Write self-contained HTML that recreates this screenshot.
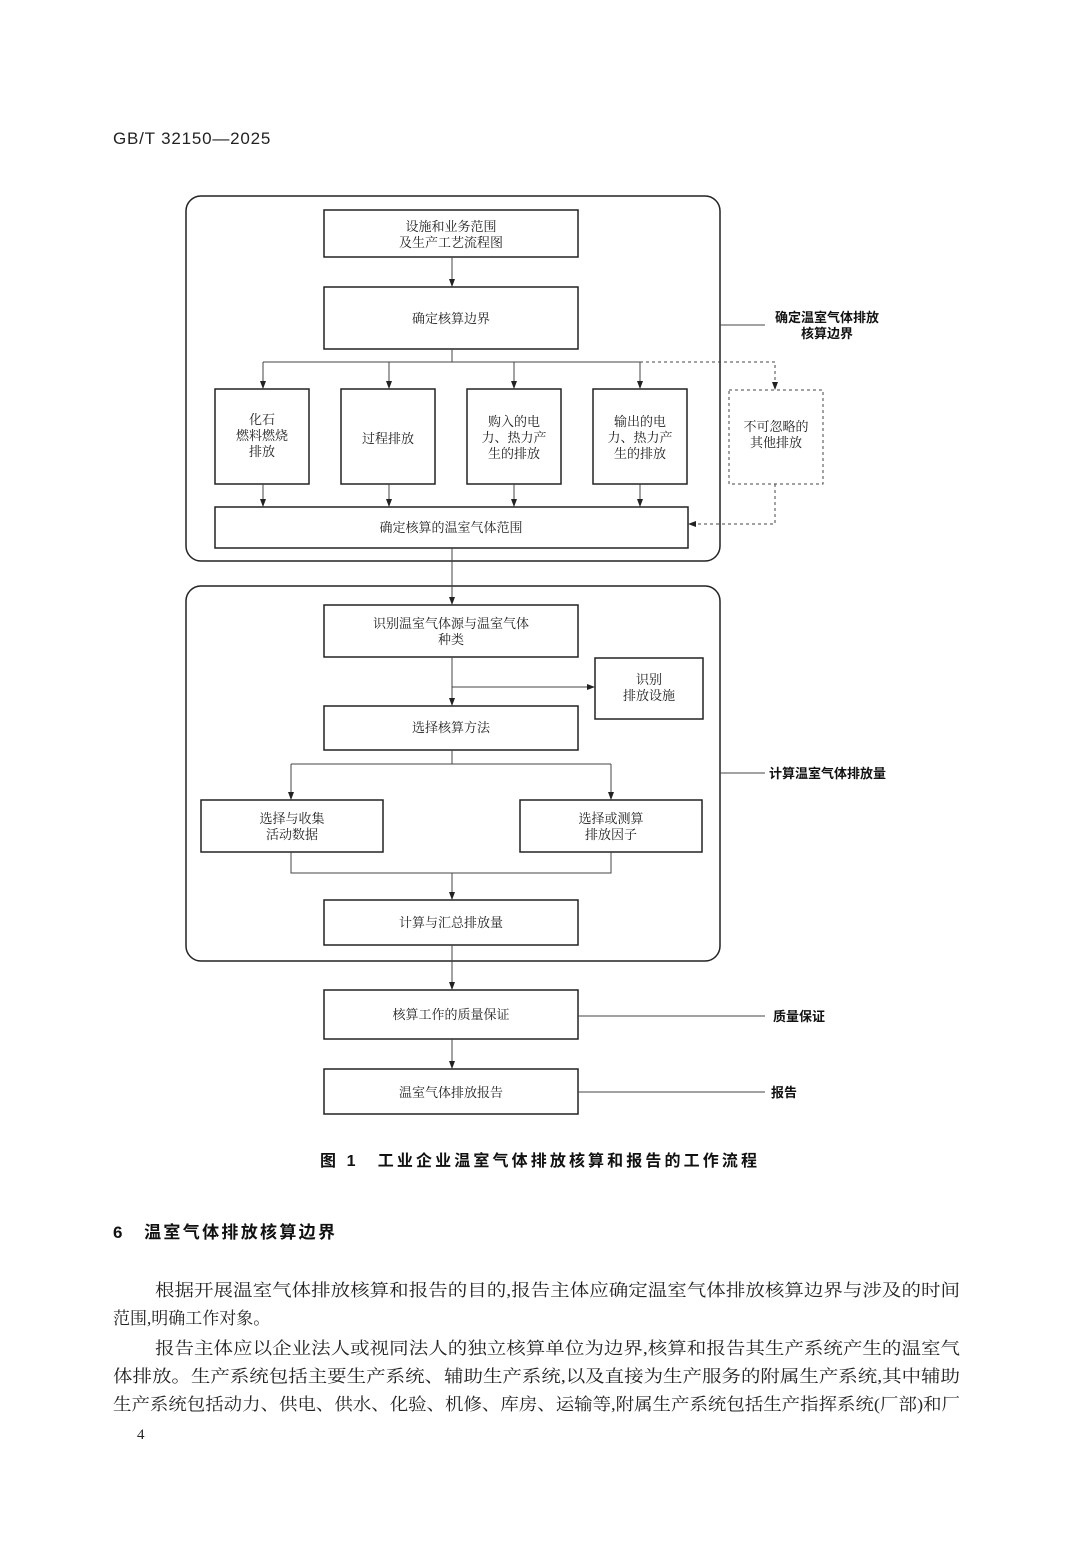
<!DOCTYPE html>
<html><head><meta charset="utf-8"><style>
html,body{margin:0;padding:0;background:#fff;}
svg{display:block}
.s{font-family:"Liberation Serif","Noto Serif CJK SC",serif;}
.b{font-family:"Liberation Sans","Noto Sans CJK SC",sans-serif;font-weight:bold;}
</style></head><body>
<svg width="1080" height="1546" viewBox="0 0 1080 1546" xmlns="http://www.w3.org/2000/svg">
<defs><marker id="a" markerWidth="8" markerHeight="8" refX="7" refY="4" orient="auto" markerUnits="userSpaceOnUse"><path d="M0,1 L8,4 L0,7 Z" fill="#222"/></marker></defs>
<text x="113" y="144" font-family="Liberation Sans, sans-serif" font-size="17" letter-spacing="0.8" fill="#222">GB/T 32150—2025</text>
<g fill="none" stroke="#222" stroke-width="1.5">
<rect x="186" y="196" width="534" height="365" rx="15"/>
<rect x="186" y="586" width="534" height="375" rx="15"/>
<rect x="324" y="210" width="254" height="47"/>
<rect x="324" y="287" width="254" height="62"/>
<rect x="215" y="389" width="94" height="95"/>
<rect x="341" y="389" width="94" height="95"/>
<rect x="467" y="389" width="94" height="95"/>
<rect x="593" y="389" width="94" height="95"/>
<rect x="215" y="507" width="473" height="41"/>
<rect x="324" y="605" width="254" height="52"/>
<rect x="595" y="658" width="108" height="61"/>
<rect x="324" y="706" width="254" height="44"/>
<rect x="201" y="800" width="182" height="52"/>
<rect x="520" y="800" width="182" height="52"/>
<rect x="324" y="900" width="254" height="45"/>
<rect x="324" y="990" width="254" height="49"/>
<rect x="324" y="1069" width="254" height="45"/>
</g>
<g fill="none" stroke="#444" stroke-width="1">
<line x1="452" y1="257" x2="452" y2="286" marker-end="url(#a)"/>
<line x1="452" y1="349" x2="452" y2="362"/>
<line x1="263" y1="362" x2="640" y2="362"/>
<line x1="263" y1="362" x2="263" y2="388" marker-end="url(#a)"/>
<line x1="389" y1="362" x2="389" y2="388" marker-end="url(#a)"/>
<line x1="514" y1="362" x2="514" y2="388" marker-end="url(#a)"/>
<line x1="640" y1="362" x2="640" y2="388" marker-end="url(#a)"/>
<line x1="263" y1="484" x2="263" y2="506" marker-end="url(#a)"/>
<line x1="389" y1="484" x2="389" y2="506" marker-end="url(#a)"/>
<line x1="514" y1="484" x2="514" y2="506" marker-end="url(#a)"/>
<line x1="640" y1="484" x2="640" y2="506" marker-end="url(#a)"/>
<g stroke-dasharray="3,3">
<rect x="729" y="390" width="94" height="94"/>
<polyline points="640,362 775,362 775,389" marker-end="url(#a)"/>
<polyline points="775,484 775,524 689,524" marker-end="url(#a)"/>
</g>
<line x1="452" y1="548" x2="452" y2="604" marker-end="url(#a)"/>
<line x1="720" y1="325" x2="765" y2="325"/>
<line x1="452" y1="657" x2="452" y2="705" marker-end="url(#a)"/>
<line x1="452" y1="687" x2="594" y2="687" marker-end="url(#a)"/>
<line x1="452" y1="750" x2="452" y2="764"/>
<line x1="291" y1="764" x2="611" y2="764"/>
<line x1="291" y1="764" x2="291" y2="799" marker-end="url(#a)"/>
<line x1="611" y1="764" x2="611" y2="799" marker-end="url(#a)"/>
<polyline points="291,852 291,873 611,873 611,852"/>
<line x1="452" y1="873" x2="452" y2="899" marker-end="url(#a)"/>
<line x1="720" y1="773" x2="765" y2="773"/>
<line x1="452" y1="945" x2="452" y2="989" marker-end="url(#a)"/>
<line x1="452" y1="1039" x2="452" y2="1068" marker-end="url(#a)"/>
<line x1="578" y1="1016" x2="765" y2="1016"/>
<line x1="578" y1="1092" x2="765" y2="1092"/>
</g>
<g class="s" font-size="13" fill="#222" text-anchor="middle">
<text x="451" y="231">设施和业务范围</text>
<text x="451" y="247">及生产工艺流程图</text>
<text x="451" y="323">确定核算边界</text>
<text x="262" y="424">化石</text><text x="262" y="440">燃料燃烧</text><text x="262" y="456">排放</text>
<text x="388" y="443">过程排放</text>
<text x="514" y="426">购入的电</text><text x="514" y="442">力、热力产</text><text x="514" y="458">生的排放</text>
<text x="640" y="426">输出的电</text><text x="640" y="442">力、热力产</text><text x="640" y="458">生的排放</text>
<text x="776" y="431">不可忽略的</text><text x="776" y="447">其他排放</text>
<text x="451" y="532">确定核算的温室气体范围</text>
<text x="451" y="628">识别温室气体源与温室气体</text>
<text x="451" y="644">种类</text>
<text x="649" y="684">识别</text><text x="649" y="700">排放设施</text>
<text x="451" y="732">选择核算方法</text>
<text x="292" y="823">选择与收集</text><text x="292" y="839">活动数据</text>
<text x="611" y="823">选择或测算</text><text x="611" y="839">排放因子</text>
<text x="451" y="927">计算与汇总排放量</text>
<text x="451" y="1019">核算工作的质量保证</text>
<text x="451" y="1097">温室气体排放报告</text>
</g>
<g class="b" font-size="13" fill="#111">
<text x="827" y="322" text-anchor="middle">确定温室气体排放</text>
<text x="827" y="338" text-anchor="middle">核算边界</text>
<text x="769" y="778">计算温室气体排放量</text>
<text x="773" y="1021">质量保证</text>
<text x="771" y="1097">报告</text>
<text x="320" y="1166" font-size="16" textLength="437" lengthAdjust="spacing">图 1　工业企业温室气体排放核算和报告的工作流程</text>
<text x="113" y="1238" font-size="17" textLength="222" lengthAdjust="spacing">6　温室气体排放核算边界</text>
</g>
<g class="s" font-size="17" fill="#222">
<text x="155" y="1296" textLength="805" lengthAdjust="spacingAndGlyphs">根据开展温室气体排放核算和报告的目的,报告主体应确定温室气体排放核算边界与涉及的时间</text>
<text x="113" y="1324">范围,明确工作对象。</text>
<text x="155" y="1354" textLength="805" lengthAdjust="spacingAndGlyphs">报告主体应以企业法人或视同法人的独立核算单位为边界,核算和报告其生产系统产生的温室气</text>
<text x="113" y="1382" textLength="847" lengthAdjust="spacingAndGlyphs">体排放。生产系统包括主要生产系统、辅助生产系统,以及直接为生产服务的附属生产系统,其中辅助</text>
<text x="113" y="1410" textLength="847" lengthAdjust="spacingAndGlyphs">生产系统包括动力、供电、供水、化验、机修、库房、运输等,附属生产系统包括生产指挥系统(厂部)和厂</text>
<text x="137" y="1439" font-size="15">4</text>
</g>
</svg>
</body></html>
